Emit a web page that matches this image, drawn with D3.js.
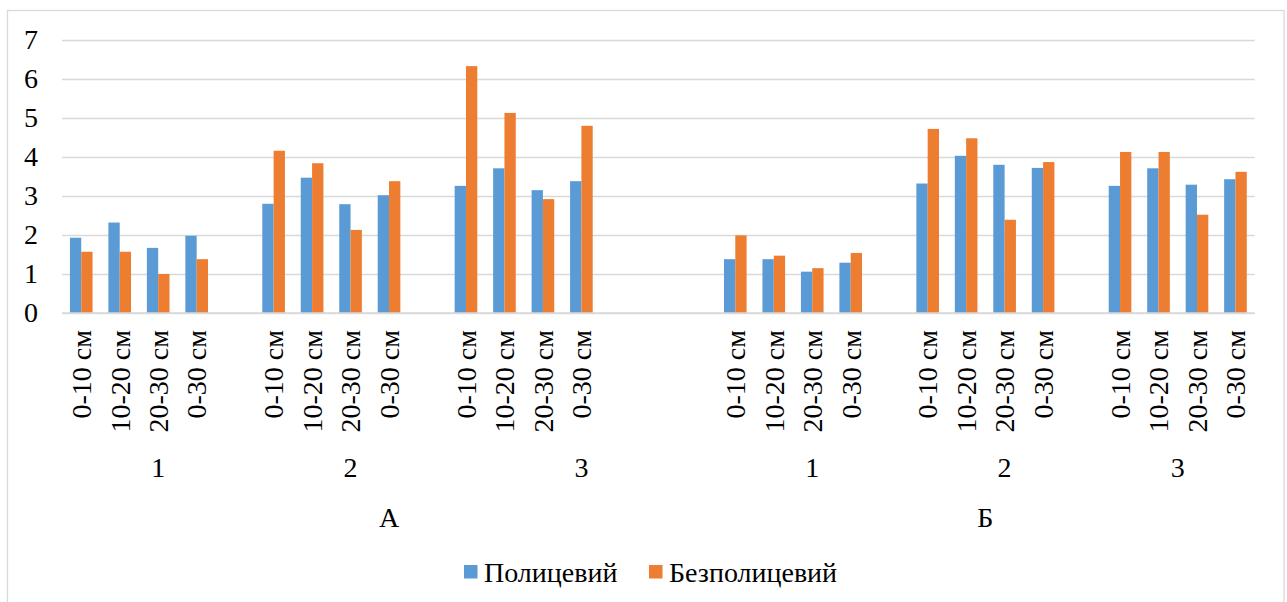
<!DOCTYPE html>
<html>
<head>
<meta charset="utf-8">
<script src="https://cdn.jsdelivr.net/npm/d3@7"></script>
<style>
  html, body { margin: 0; padding: 0; background: #fff; }
  svg { display: block; }
  text { font-family: "Liberation Serif", "Times New Roman", serif; fill: #000; }
</style>
</head>
<body>
<svg id="chart" width="1287" height="602"></svg>
<script>
// ---- data ----
const mainGroups = ["А", "Б"];
const subGroups = ["1", "2", "3"];
const depths = ["0-10 см", "10-20 см", "20-30 см", "0-30 см"];
// empty categories after each sub-group (as in the source table)
const blanksAfter = [1, 1, 3, 1, 1, 0];
const seriesNames = ["Полицевий", "Безполицевий"];
// order: А1 (4 depths), А2, А3, Б1, Б2, Б3
const polytsevyi = [
  1.93, 2.32, 1.67, 1.98,
  2.80, 3.47, 2.79, 3.02,
  3.26, 3.71, 3.15, 3.38,
  1.38, 1.38, 1.06, 1.29,
  3.32, 4.03, 3.80, 3.72,
  3.26, 3.71, 3.29, 3.43
];
const bezpolytsevyi = [
  1.57, 1.57, 1.00, 1.38,
  4.16, 3.84, 2.13, 3.38,
  6.33, 5.13, 2.92, 4.80,
  1.99, 1.47, 1.15, 1.54,
  4.72, 4.48, 2.39, 3.87,
  4.13, 4.13, 2.52, 3.62
];
const yTicks = [0, 1, 2, 3, 4, 5, 6, 7];
const colors = ["#5B9BD5", "#ED7D31"];

// ---- build category slots ----
const slots = [];
let vi = 0, sgi = 0;
mainGroups.forEach((m) => {
  subGroups.forEach((s) => {
    depths.forEach((d) => {
      slots.push({ main: m, sub: s, subIdx: sgi, depth: d, values: [polytsevyi[vi], bezpolytsevyi[vi]] });
      vi++;
    });
    for (let b = 0; b < blanksAfter[sgi]; b++) {
      slots.push({ main: m, sub: s, subIdx: sgi, depth: "", values: null });
    }
    sgi++;
  });
});

// ---- layout ----
const svg = d3.select("#chart");
const plot = { left: 62, right: 1254.7, top: 40, bottom: 313 };
const FS = 28;

// chart border
svg.append("rect")
  .attr("x", 7.5).attr("y", 10.5).attr("width", 1276.5).attr("height", 600)
  .attr("fill", "#fff").attr("stroke", "#d9d9d9").attr("stroke-width", 1.3);

const x = d3.scaleBand().domain(d3.range(slots.length)).range([plot.left, plot.right]).paddingInner(0).paddingOuter(0);
const bw = x.bandwidth();
const gapW = 1.4; // Excel gap width 140%
const barW = bw / (seriesNames.length + gapW);
const xs = d3.scaleBand().domain(d3.range(seriesNames.length))
  .range([barW * gapW / 2, barW * gapW / 2 + barW * seriesNames.length]).padding(0);
const y = d3.scaleLinear().domain([0, 7]).range([plot.bottom, plot.top]);

// gridlines
const yAxis = d3.axisLeft(y).tickValues(yTicks).tickSize(-(plot.right - plot.left)).tickFormat(d3.format("d")).tickPadding(24);
const gy = svg.append("g").attr("transform", `translate(${plot.left},0)`).call(yAxis);
gy.select(".domain").remove();
gy.selectAll(".tick line").attr("stroke", "#d9d9d9").attr("stroke-width", 1.3);
gy.selectAll(".tick text").attr("font-size", FS).attr("font-family", '"Liberation Serif", serif').attr("fill", "#000");

// bars
const slotG = svg.append("g").selectAll("g").data(slots.map((s, i) => ({ ...s, i })).filter(s => s.values))
  .join("g").attr("transform", d => `translate(${x(d.i)},0)`);
slotG.selectAll("rect").data(d => d.values.map((v, k) => ({ v, k })))
  .join("rect")
  .attr("x", d => xs(d.k))
  .attr("width", xs.bandwidth())
  .attr("y", d => y(d.v))
  .attr("height", d => y(0) - y(d.v))
  .attr("fill", d => colors[d.k]);

// baseline
svg.append("line").attr("x1", plot.left).attr("x2", plot.right).attr("y1", y(0)).attr("y2", y(0))
  .attr("stroke", "#d9d9d9").attr("stroke-width", 1.3);

// depth labels (rotated)
svg.append("g").selectAll("text").data(slots.map((s, i) => ({ ...s, i })).filter(s => s.depth))
  .join("text")
  .attr("transform", d => `translate(${x(d.i) + bw / 2},330) rotate(-90)`)
  .attr("text-anchor", "end")
  .attr("dy", "0.35em")
  .attr("font-size", FS)
  .text(d => d.depth);

// sub-group labels
const subSpans = d3.groups(slots.map((s, i) => ({ ...s, i })), d => d.subIdx);
svg.append("g").selectAll("text").data(subSpans)
  .join("text")
  .attr("x", ([, arr]) => (x(arr[0].i) + x(arr[arr.length - 1].i) + bw) / 2)
  .attr("y", 477)
  .attr("text-anchor", "middle")
  .attr("font-size", FS)
  .text(([, arr]) => arr[0].sub);

// main group labels
const mainSpans = d3.groups(slots.map((s, i) => ({ ...s, i })), d => d.main);
svg.append("g").selectAll("text").data(mainSpans)
  .join("text")
  .attr("x", ([, arr]) => (x(arr[0].i) + x(arr[arr.length - 1].i) + bw) / 2)
  .attr("y", 527)
  .attr("text-anchor", "middle")
  .attr("font-size", FS)
  .text(([m]) => m);

// legend
const legend = svg.append("g");
const legX = [464, 649];
seriesNames.forEach((n, k) => {
  legend.append("rect").attr("x", legX[k]).attr("y", 565).attr("width", 13.5).attr("height", 13.5).attr("fill", colors[k]);
  legend.append("text").attr("x", legX[k] + 20).attr("y", 582).attr("font-size", FS).text(n);
});
</script>
</body>
</html>
